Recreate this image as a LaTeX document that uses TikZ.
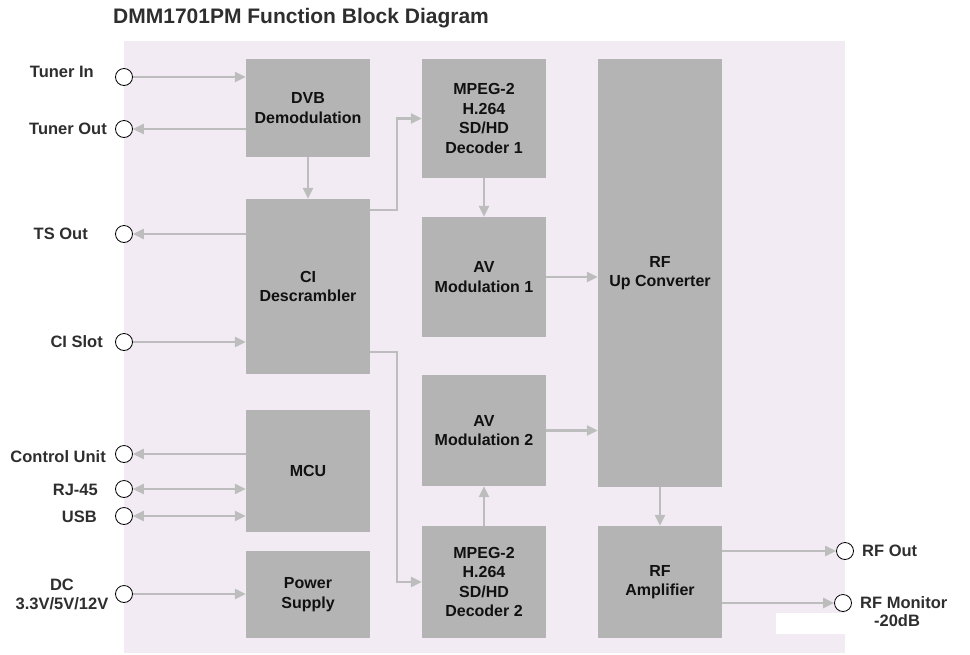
\documentclass[tikz,border=0pt]{standalone}
\usepackage{fontspec}
\setmainfont{Liberation Sans}
\usetikzlibrary{arrows.meta,calc}
\definecolor{lav}{HTML}{F2EBF4}
\definecolor{blk}{HTML}{B4B4B4}
\definecolor{arrc}{HTML}{BDBDBD}
\definecolor{txt}{HTML}{111111}
\definecolor{lbl}{HTML}{2E2E2E}
\begin{document}
\begin{tikzpicture}[x=1pt,y=-1pt,
 block/.style={fill=blk, draw=none, minimum width=124pt, inner sep=0pt, align=center, font=\fontsize{16}{19.5}\selectfont\bfseries, text=txt},
 port/.style={circle, draw=black, line width=0.8pt, fill=white, minimum size=17pt, inner sep=0pt},
 lab/.style={font=\fontsize{16.5}{19}\selectfont\bfseries, text=lbl, inner sep=0pt, align=center},
 arr/.style={draw=arrc, line width=2.5pt, -{Triangle[length=11pt,width=10pt]}},
 darr/.style={draw=arrc, line width=2.5pt, {Triangle[length=11pt,width=10pt]}-{Triangle[length=11pt,width=10pt]}},
]
\useasboundingbox (0,0) rectangle (970,654);
\fill[lav] (124,41) rectangle (845,653);
\fill[white] (776,613) rectangle (845,634);
\node[anchor=west, font=\fontsize{21}{24}\selectfont\bfseries, text=lbl, inner sep=0pt] (title) at (113,18) {DMM1701PM Function Block Diagram};

% blocks
\node[block, minimum height=98pt] (dvb) at (308,108) {DVB\\Demodulation};
\node[block, minimum height=119pt] (dec1) at (484,118.5) {MPEG-2\\H.264\\SD/HD\\Decoder 1};
\node[block, minimum height=428pt] (rfup) at (660,273) {RF\\Up Converter};
\node[block, minimum height=175pt] (ci) at (308,286.5) {CI\\Descrambler};
\node[block, minimum height=120pt] (av1) at (484,277) {AV\\Modulation 1};
\node[block, minimum height=111pt] (av2) at (484,430.5) {AV\\Modulation 2};
\node[block, minimum height=122pt] (mcu) at (308,471) {MCU};
\node[block, minimum height=87pt] (ps) at (308,594.5) {Power\\Supply};
\node[block, minimum height=112pt] (dec2) at (484,582) {MPEG-2\\H.264\\SD/HD\\Decoder 2};
\node[block, minimum height=112pt] (rfamp) at (660,582) {RF\\Amplifier};

% ports
\node[port] (tin) at (124,77) {};
\node[port] (tout) at (124,129) {};
\node[port] (tso) at (124,234) {};
\node[port] (cis) at (124,342) {};
\node[port] (ctl) at (124,454) {};
\node[port] (rj) at (124,489) {};
\node[port] (usb) at (124,516) {};
\node[port] (dc) at (124,594) {};
\node[port] (rfout) at (845,551) {};
\node[port] (rfmon) at (843,603) {};

% labels
\node[lab, anchor=east] (ltin) at (94,72) {Tuner In};
\node[lab, anchor=east] (ltout) at (107,129) {Tuner Out};
\node[lab, anchor=east] (ltso) at (88,234) {TS Out};
\node[lab, anchor=east] (lcis) at (103,342) {CI Slot};
\node[lab, anchor=east] (lctl) at (106,457) {Control Unit};
\node[lab, anchor=east] (lrj) at (98,490) {RJ-45};
\node[lab, anchor=east] (lusb) at (97,517) {USB};
\node[lab] (ldc) at (62,594) {DC\\3.3V/5V/12V};
\node[lab, anchor=west] (lrfo) at (862,551) {RF Out};
\node[lab, anchor=west] (lrfm) at (860,603) {RF Monitor};
\node[lab] (ldb) at (897,621) {-20dB};

% connectors
\draw[arr] (tin) -- (tin -| dvb.west);
\draw[arr] (tout -| dvb.west) -- (tout);
\draw[arr] (tso -| ci.west) -- (tso);
\draw[arr] (cis) -- (cis -| ci.west);
\draw[arr] (ctl -| mcu.west) -- (ctl);
\draw[darr] (rj) -- (rj -| mcu.west);
\draw[darr] (usb) -- (usb -| mcu.west);
\draw[arr] (dc) -- (dc -| ps.west);
\draw[arr] (dvb.south) -- (ci.north);
\draw[arr] ([yshift=-11pt]ci.north east) -- ++(27,0) |- (dec1.west);
\draw[arr] ([yshift=22pt]ci.south east) -- ++(27,0) |- (dec2.west);
\draw[arr] (dec1.south) -- (av1.north);
\draw[arr] (dec2.north) -- (av2.south);
\draw[arr] (av1.east) -- (av1.east -| rfup.west);
\draw[arr] (av2.east) -- (av2.east -| rfup.west);
\draw[arr] (rfup.south) -- (rfamp.north);
\draw[arr] (rfout -| rfamp.east) -- (rfout);
\draw[arr] (rfmon -| rfamp.east) -- (rfmon);
\end{tikzpicture}
\end{document}
